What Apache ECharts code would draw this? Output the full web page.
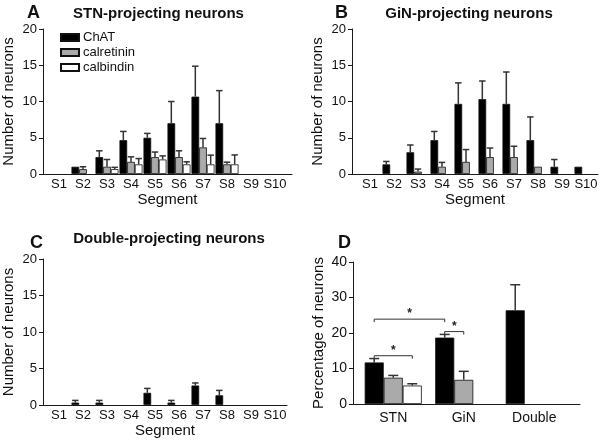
<!DOCTYPE html>
<html>
<head>
<meta charset="utf-8">
<script src="https://cdn.jsdelivr.net/npm/echarts@6/dist/echarts.min.js"></script>
<style>html,body{margin:0;padding:0;background:#fff}#c{width:602px;height:442px}</style>
</head>
<body>
<div id="c"></div>
<script>
// ---------- data ----------
const segments = ['S1','S2','S3','S4','S5','S6','S7','S8','S9','S10'];
const seriesNames = ['ChAT','calretinin','calbindin'];

// Panel A: STN-projecting neurons
const stnChat      = [null,1.0,2.33,4.67,5.0,7.0,10.67,7.0,null,null];
const stnChatErr   = [null,null,0.87,1.2,0.6,3.0,4.2,4.5,null,null];
const stnCalret    = [null,0.67,1.0,1.67,2.33,2.33,3.67,1.33,null,null];
const stnCalretErr = [null,0.33,1.0,0.7,0.7,0.87,1.23,0.3,null,null];
const stnCalb      = [null,null,0.67,1.33,2.0,1.33,1.33,1.33,null,null];
const stnCalbErr   = [null,null,0.25,0.8,0.5,0.35,1.27,1.3,null,null];

// Panel B: GiN-projecting neurons
const ginChat      = [null,1.33,3.0,4.67,9.67,10.33,9.67,4.67,1.0,1.0];
const ginChatErr   = [null,0.4,1.0,1.2,2.9,2.5,4.4,3.2,1.0,null];
const ginCalret    = [null,null,0.33,1.0,1.67,2.33,2.33,1.0,null,null];
const ginCalretErr = [null,null,0.35,0.6,1.7,1.25,1.5,null,null,null];
const ginCalb      = [null,null,null,null,null,null,null,null,null,null];

// Panel C: Double-projecting neurons
const dblChat      = [null,0.33,0.33,null,1.67,0.33,2.67,1.33,null,null];
const dblChatErr   = [null,0.3,0.3,null,0.6,0.3,0.35,0.67,null,null];
const emptySeg     = [null,null,null,null,null,null,null,null,null,null];

// Panel D: percentage of neurons
const groupsD      = ['STN','GiN','Double'];
const pctChat      = [11.7,18.7,26.4];
const pctChatErr   = [1.1,0.9,7.2];
const pctCalret    = [7.4,6.8,null];
const pctCalretErr = [0.65,2.4,null];
const pctCalb      = [5.2,null,null];
const pctCalbErr   = [0.5,null,null];
// significance brackets: [groupA, slotA, groupB, slotB, level]
const sigBrackets  = [[0,0,0,2,13.6],[0,0,1,0,23.9],[1,0,1,1,20.4]];

// ---------- styling ----------
const FONT = 'Liberation Sans, Arial, Helvetica, sans-serif';
const fills = ['#000000','#aaaaaa','#ffffff'];
const AX = '#1a1a1a';

const panels = [
  {frame:{left:42,top:29,width:250,height:145}, data:{left:47,width:240}, cats:segments,
   vals:[stnChat,stnCalret,stnCalb], errs:[stnChatErr,stnCalretErr,stnCalbErr],
   max:20, interval:5, yName:'Number of neurons', xName:'Segment', gap:0.04, labelSize:13, tickSize:13, lblMargin:4},
  {frame:{left:352,top:29,width:246,height:145}, data:{left:358,width:240}, cats:segments,
   vals:[ginChat,ginCalret,ginCalb], errs:[ginChatErr,ginCalretErr,emptySeg],
   max:20, interval:5, yName:'Number of neurons', xName:'Segment', gap:0.04, labelSize:13, tickSize:13, lblMargin:4},
  {frame:{left:42,top:259,width:245,height:146}, data:{left:47,width:240}, cats:segments,
   vals:[dblChat,emptySeg,emptySeg], errs:[dblChatErr,emptySeg,emptySeg],
   max:20, interval:5, yName:'Number of neurons', xName:'Segment', gap:0.04, labelSize:13, tickSize:13, lblMargin:4},
  {frame:{left:353,top:262,width:227,height:142}, data:{left:358,width:211.5}, cats:groupsD,
   vals:[pctChat,pctCalret,pctCalb], errs:[pctChatErr,pctCalretErr,pctCalbErr],
   max:40, interval:10, yName:'Percentage of neurons', xName:'', gap:0.19, labelSize:14, tickSize:14, lblMargin:7}
];

const grid = [], xAxis = [], yAxis = [], series = [];

function errorRender(slot, gap) {
  return function (params, api) {
    const x = api.value(0), v = api.value(1), e = api.value(2);
    const band = api.size([1, 0])[0];
    const w = band * (1 - gap) / 3;
    const base = api.coord([x, v]);
    const top = api.coord([x, v + e]);
    const cx = base[0] + (slot - 1) * w;
    const ch = Math.min(w * 0.42, 5);
    const st = {stroke:'#333', lineWidth:1.5};
    return {type:'group', children:[
      {type:'line', shape:{x1:cx, y1:base[1], x2:cx, y2:top[1]}, style:st},
      {type:'line', shape:{x1:cx-ch, y1:top[1], x2:cx+ch, y2:top[1]}, style:st}
    ]};
  };
}

function bracketRender(gap) {
  return function (params, api) {
    const gA = api.value(0), sA = api.value(1), gB = api.value(2), sB = api.value(3), lv = api.value(4);
    const band = api.size([1, 0])[0];
    const w = band * (1 - gap) / 3;
    const pA = api.coord([gA, lv]);
    const pB = api.coord([gB, lv]);
    const xA = pA[0] + (sA - 1) * w;
    const xB = pB[0] + (sB - 1) * w;
    const y = pA[1];
    const st = {stroke:'#333', lineWidth:1, fill:null};
    return {type:'group', children:[
      {type:'polyline', shape:{points:[[xA, y+3],[xA, y],[xB, y],[xB, y+3]]}, style:st},
      {type:'text', x:(xA+xB)/2, y:y+1, style:{text:'*', align:'center', verticalAlign:'bottom', font:'bold 12px ' + FONT, fill:'#222'}}
    ]};
  };
}

panels.forEach((p, i) => {
  const gf = 2*i, gd = 2*i+1;
  grid.push({left:p.frame.left, top:p.frame.top, width:p.frame.width, height:p.frame.height});
  grid.push({left:p.data.left, top:p.frame.top, width:p.data.width, height:p.frame.height});
  xAxis.push({gridIndex:gf, type:'value', min:0, max:1,
    axisLine:{show:true, lineStyle:{color:AX, width:1}}, axisTick:{show:false}, axisLabel:{show:false}, splitLine:{show:false},
    name:p.xName, nameLocation:'middle', nameGap:18,
    nameTextStyle:{fontFamily:FONT, fontSize:15, color:'#111', verticalAlign:'top'}});
  xAxis.push({gridIndex:gd, type:'category', data:p.cats, boundaryGap:true,
    axisLine:{show:false}, axisTick:{show:false},
    axisLabel:{show:true, interval:0, margin:p.lblMargin, fontFamily:FONT, fontSize:p.labelSize, color:'#111'}});
  yAxis.push({gridIndex:gf, type:'value', min:0, max:p.max, interval:p.interval,
    axisLine:{show:true, lineStyle:{color:AX, width:1}},
    axisTick:{show:true, length:4, lineStyle:{color:AX}},
    axisLabel:{margin:6, fontFamily:FONT, fontSize:p.tickSize, color:'#111'},
    splitLine:{show:false},
    name:p.yName, nameLocation:'middle', nameGap:27, nameRotate:90,
    nameTextStyle:{fontFamily:FONT, fontSize:15, color:'#111'}});
  yAxis.push({gridIndex:gd, type:'value', min:0, max:p.max, interval:p.interval, show:false});

  p.vals.forEach((vals, s) => {
    series.push({type:'bar', name:seriesNames[s], xAxisIndex:gd, yAxisIndex:gd,
      data:vals.map(v => v == null ? '-' : v),
      barGap:'0%', barCategoryGap:(p.gap*100)+'%',
      itemStyle:{color:fills[s], borderColor:'#111', borderWidth:0.8},
      emphasis:{disabled:true}, silent:true});
  });
  p.errs.forEach((errs, s) => {
    const d = [];
    errs.forEach((e, k) => { if (e != null && p.vals[s][k] != null) d.push([k, p.vals[s][k], e]); });
    if (d.length) series.push({type:'custom', xAxisIndex:gd, yAxisIndex:gd, renderItem:errorRender(s, p.gap),
      data:d, encode:{x:0, y:1}, z:5, silent:true});
  });
  if (i === 3) {
    series.push({type:'custom', xAxisIndex:gd, yAxisIndex:gd, renderItem:bracketRender(p.gap),
      data:sigBrackets, encode:{x:0, y:4}, z:5, silent:true});
  }
});

const titleStyle = {fontFamily:FONT, fontWeight:'bold', fontSize:15, color:'#111'};
const letterStyle = {fontFamily:FONT, fontWeight:'bold', fontSize:18, color:'#111'};
const option = {
  animation:false,
  backgroundColor:'#fff',
  title:[
    {text:'A', left:27, top:4, padding:0, textStyle:letterStyle},
    {text:'STN-projecting neurons', left:158.5, top:6, padding:0, textAlign:'center', textStyle:titleStyle},
    {text:'B', left:335, top:4, padding:0, textStyle:letterStyle},
    {text:'GiN-projecting neurons', left:469, top:6, padding:0, textAlign:'center', textStyle:titleStyle},
    {text:'C', left:30, top:234, padding:0, textStyle:letterStyle},
    {text:'Double-projecting neurons', left:169, top:231, padding:0, textAlign:'center', textStyle:titleStyle},
    {text:'D', left:338, top:234, padding:0, textStyle:letterStyle}
  ],
  legend:{data:seriesNames, orient:'vertical', left:60, top:31, padding:0, itemGap:2,
    itemWidth:18, itemHeight:7, icon:'rect', selectedMode:false,
    textStyle:{fontFamily:FONT, fontSize:13, color:'#111', padding:[0,0,0,-1]}},
  grid, xAxis, yAxis, series
};
const chart = echarts.init(document.getElementById('c'), null, {renderer:'canvas'});
chart.setOption(option);
</script>
</body>
</html>
